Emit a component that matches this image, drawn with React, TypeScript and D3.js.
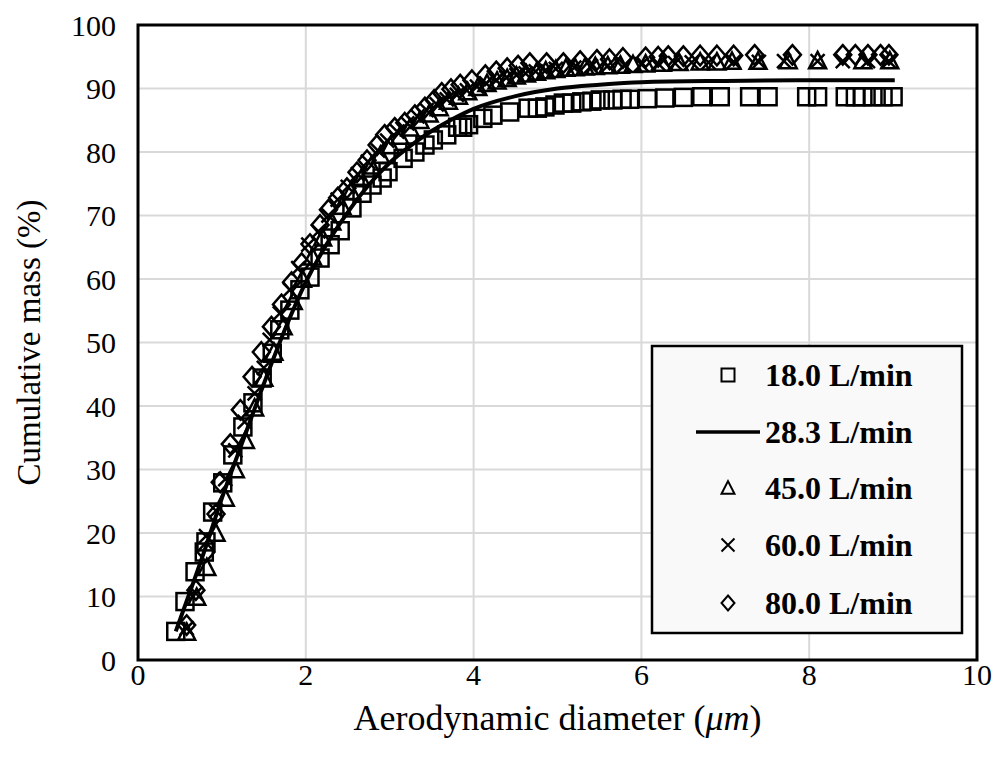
import React from "react";
import * as d3 from "d3";

// 18.0 L/min (squares)
const sqX = [0.45, 0.56, 0.68, 0.79, 0.81, 0.89, 1.01, 1.13, 1.25, 1.37, 1.48, 1.6, 1.69, 1.81, 1.93, 2.05, 2.17, 2.29, 2.41, 2.55, 2.67, 2.79, 2.91, 2.98, 3.16, 3.3, 3.42, 3.52, 3.68, 3.81, 3.87, 3.94, 4.11, 4.23, 4.43, 4.65, 4.76, 4.85, 4.97, 5.07, 5.17, 5.29, 5.41, 5.51, 5.66, 5.77, 5.86, 6.07, 6.28, 6.5, 6.72, 6.94, 7.29, 7.51, 7.97, 8.1, 8.43, 8.55, 8.64, 8.76, 8.88, 9.0];
const sqY = [4.5, 9.2, 13.9, 17.0, 18.6, 23.3, 27.9, 32.3, 36.7, 40.5, 44.4, 48.3, 52.0, 55.1, 58.3, 60.3, 63.3, 65.4, 67.6, 71.2, 73.5, 74.8, 75.9, 76.9, 79.0, 80.0, 81.1, 81.9, 82.7, 83.9, 83.9, 84.3, 85.3, 85.8, 86.3, 86.9, 86.9, 87.1, 87.4, 87.7, 87.7, 87.9, 88.0, 88.2, 88.2, 88.3, 88.3, 88.4, 88.5, 88.6, 88.7, 88.7, 88.7, 88.7, 88.7, 88.7, 88.7, 88.7, 88.7, 88.7, 88.7, 88.7];

// 28.3 L/min (line)
const lnX = [0.45, 0.6, 0.8, 1.0, 1.25, 1.5, 1.75, 2.0, 2.25, 2.5, 2.75, 3.0, 3.25, 3.5, 3.75, 4.0, 4.5, 5.0, 5.5, 6.0, 7.0, 8.0, 9.02];
const lnY = [4.5, 10.0, 17.5, 25.5, 34.5, 43.5, 52.0, 59.5, 65.5, 70.5, 74.8, 78.3, 81.0, 83.3, 85.2, 86.8, 88.8, 90.0, 90.6, 91.0, 91.2, 91.3, 91.3];

// 45.0 L/min (triangles)
const trX = [0.58, 0.7, 0.82, 0.93, 1.04, 1.16, 1.28, 1.39, 1.5, 1.62, 1.73, 1.85, 1.96, 2.08, 2.2, 2.31, 2.43, 2.54, 2.66, 2.78, 2.89, 3.01, 3.12, 3.24, 3.36, 3.47, 3.59, 3.7, 3.82, 3.93, 4.05, 4.16, 4.28, 4.4, 4.51, 4.63, 4.75, 4.86, 4.98, 5.1, 5.21, 5.33, 5.45, 5.6, 5.75, 5.9, 6.05, 6.25, 6.45, 6.7, 6.9, 7.08, 7.39, 7.75, 8.1, 8.64, 8.96];
const trY = [4.4, 9.9, 14.6, 20.0, 25.5, 30.0, 34.6, 39.7, 44.4, 48.5, 52.5, 56.5, 60.0, 63.5, 66.5, 69.0, 71.5, 73.8, 75.8, 77.8, 79.5, 81.0, 82.5, 83.8, 85.0, 86.0, 87.0, 88.0, 88.8, 89.5, 90.2, 90.8, 91.2, 91.6, 92.0, 92.3, 92.6, 92.8, 93.0, 93.2, 93.3, 93.4, 93.5, 93.6, 93.7, 93.8, 93.9, 94.0, 94.1, 94.2, 94.2, 94.3, 94.3, 94.4, 94.4, 94.4, 94.4];

// 60.0 L/min (crosses)
const crX = [0.58, 0.69, 0.81, 0.93, 1.04, 1.16, 1.27, 1.39, 1.5, 1.57, 1.69, 1.81, 1.91, 2.03, 2.15, 2.27, 2.38, 2.5, 2.62, 2.74, 2.86, 2.97, 3.09, 3.21, 3.33, 3.44, 3.56, 3.68, 3.8, 3.92, 4.04, 4.15, 4.27, 4.39, 4.51, 4.62, 4.74, 4.86, 4.98, 5.2, 5.4, 5.6, 5.8, 6.0, 6.2, 6.4, 6.6, 6.8, 7.1, 7.4, 7.7, 8.1, 8.4, 8.7, 8.95];
const crY = [5.0, 10.5, 19.5, 23.5, 28.5, 33.0, 37.5, 42.0, 46.0, 50.4, 54.6, 58.3, 61.7, 65.4, 67.5, 70.0, 72.5, 74.5, 76.5, 78.5, 80.2, 81.8, 83.2, 84.5, 85.6, 86.6, 87.5, 88.3, 89.0, 89.7, 90.3, 90.8, 91.3, 91.7, 92.1, 92.4, 92.7, 92.9, 93.1, 93.3, 93.5, 93.6, 93.7, 93.8, 93.9, 94.0, 94.1, 94.1, 94.2, 94.2, 94.3, 94.3, 94.3, 94.3, 94.3];

// 80.0 L/min (diamonds)
const dmX = [0.58, 0.69, 0.81, 0.93, 0.98, 1.1, 1.22, 1.36, 1.47, 1.59, 1.71, 1.83, 1.95, 2.05, 2.17, 2.27, 2.38, 2.49, 2.61, 2.73, 2.85, 2.94, 3.06, 3.18, 3.3, 3.42, 3.53, 3.62, 3.73, 3.84, 3.98, 4.14, 4.27, 4.4, 4.53, 4.67, 4.87, 5.07, 5.27, 5.47, 5.62, 5.78, 6.05, 6.2, 6.32, 6.5, 6.7, 6.9, 7.1, 7.35, 7.8, 8.4, 8.55, 8.7, 8.85, 8.95];
const dmY = [5.5, 11.0, 17.0, 23.0, 28.0, 34.0, 39.4, 44.6, 48.5, 52.5, 56.0, 59.5, 62.5, 65.5, 68.5, 70.9, 72.8, 74.3, 76.8, 78.7, 81.1, 82.7, 83.8, 84.6, 85.8, 87.0, 88.2, 89.3, 89.9, 90.6, 91.3, 92.1, 92.7, 93.2, 93.6, 94.0, 94.0, 94.0, 94.3, 94.5, 94.6, 94.8, 94.9, 95.0, 95.1, 95.1, 95.2, 95.2, 95.2, 95.3, 95.3, 95.3, 95.3, 95.3, 95.3, 95.3];

const xTicks = [0, 2, 4, 6, 8, 10];
const yTicks = [0, 10, 20, 30, 40, 50, 60, 70, 80, 90, 100];
const legendLabels = ["18.0 L/min", "28.3 L/min", "45.0 L/min", "60.0 L/min", "80.0 L/min"];

const W = 1004;
const H = 771;
const PL = 138, PR = 977, PT = 25, PB = 660;
const FONT = "'Liberation Serif', 'Times New Roman', serif";

function marker(type: string, cx: number, cy: number, s: number, sw: number, key: any) {
  const common = { fill: "none", stroke: "#000", strokeWidth: sw, key };
  if (type === "square") {
    return <rect {...common} x={cx - s / 2} y={cy - s / 2} width={s} height={s} />;
  }
  if (type === "triangle") {
    const h = s * 0.9;
    const p = `M${cx},${cy - h / 2 - 1}L${cx + s / 2},${cy + h / 2}L${cx - s / 2},${cy + h / 2}Z`;
    return <path {...common} d={p} strokeLinejoin="miter" />;
  }
  if (type === "cross") {
    const r = s / 2;
    const p = `M${cx - r},${cy - r}L${cx + r},${cy + r}M${cx - r},${cy + r}L${cx + r},${cy - r}`;
    return <path {...common} d={p} />;
  }
  // diamond
  const r = s / 2;
  const p = `M${cx},${cy - r * 1.15}L${cx + r},${cy}L${cx},${cy + r * 1.15}L${cx - r},${cy}Z`;
  return <path {...common} d={p} />;
}

export default function App() {
  const x = d3.scaleLinear().domain([0, 10]).range([PL, PR]);
  const y = d3.scaleLinear().domain([0, 100]).range([PB, PT]);

  const line = d3
    .line<number>()
    .x((_, i) => x(lnX[i]))
    .y((d) => y(d))
    .curve(d3.curveMonotoneX);

  const scatter = [
    { type: "square", xs: sqX, ys: sqY, s: 17 },
    { type: "triangle", xs: trX, ys: trY, s: 17 },
    { type: "cross", xs: crX, ys: crY, s: 14 },
    { type: "diamond", xs: dmX, ys: dmY, s: 17 },
  ];

  const legRowsY = [375, 432, 488, 545, 603];
  const legTypes = ["square", "line", "triangle", "cross", "diamond"];

  return (
    <svg width={W} height={H} style={{ position: "absolute", left: 0, top: 0, background: "#fff" }} fontFamily={FONT}>
      <rect x={0} y={0} width={W} height={H} fill="#fff" />
      {/* grid */}
      {xTicks.slice(1, -1).map((t) => (
        <line key={"gx" + t} x1={x(t)} x2={x(t)} y1={PT} y2={PB} stroke="#d9d9d9" strokeWidth={2} />
      ))}
      {yTicks.slice(1, -1).map((t) => (
        <line key={"gy" + t} x1={PL} x2={PR} y1={y(t)} y2={y(t)} stroke="#d9d9d9" strokeWidth={2} />
      ))}
      {/* tick labels */}
      {yTicks.map((t) => (
        <text key={"ty" + t} x={116} y={y(t)} dy="0.35em" textAnchor="end" fontSize={30}>
          {t}
        </text>
      ))}
      {xTicks.map((t) => (
        <text key={"tx" + t} x={x(t)} y={685} textAnchor="middle" fontSize={30}>
          {t}
        </text>
      ))}
      {/* axis titles */}
      <text x={(PL + PR) / 2} y={730} textAnchor="middle" fontSize={36}>
        Aerodynamic diameter (<tspan fontStyle="italic">μm</tspan>)
      </text>
      <text transform={`translate(40,${(PT + PB) / 2}) rotate(-90)`} textAnchor="middle" fontSize={33}>
        Cumulative mass (%)
      </text>
      {/* scatter */}
      {scatter.map((sr) => (
        <g key={sr.type}>
          {sr.xs.map((xv, i) => marker(sr.type, x(xv), y(sr.ys[i]), sr.s, 2.5, i))}
        </g>
      ))}
      <path d={line(lnY) || ""} fill="none" stroke="#000" strokeWidth={4} />
      {/* frame */}
      <rect x={PL} y={PT} width={PR - PL} height={PB - PT} fill="none" stroke="#000" strokeWidth={3} />
      {/* legend */}
      <rect x={652} y={346} width={310} height={287} fill="#f9f9f9" stroke="#000" strokeWidth={2.5} />
      {legendLabels.map((lab, i) => (
        <g key={lab}>
          {legTypes[i] === "line" ? (
            <line x1={696} x2={760} y1={legRowsY[i]} y2={legRowsY[i]} stroke="#000" strokeWidth={3.5} />
          ) : (
            marker(legTypes[i], 728, legRowsY[i], 13, 2, "m" + i)
          )}
          <text x={765} y={legRowsY[i]} dy="0.35em" fontSize={32} fontWeight="bold">
            {lab}
          </text>
        </g>
      ))}
    </svg>
  );
}
